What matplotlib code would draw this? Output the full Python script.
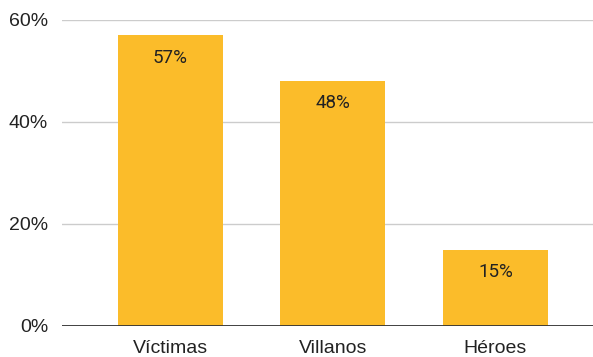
import matplotlib.pyplot as plt
from matplotlib.ticker import PercentFormatter

categories = ['Víctimas', 'Villanos', 'Héroes']
values = [0.57, 0.48, 0.15]
labels = ['57%', '48%', '15%']
yticks = [0, 0.2, 0.4, 0.6]

plt.rcParams['font.family'] = ['Liberation Sans', 'DejaVu Sans']

fig = plt.figure(figsize=(5.93, 3.57), dpi=100)
ax = fig.add_axes([62 / 593, 31 / 357, 531 / 593, 306 / 357])

x = range(len(categories))
bars = ax.bar(x, values, width=0.646, color='#fbbc2a', zorder=3)
for bar, lab in zip(bars, labels):
    ax.text(bar.get_x() + bar.get_width() / 2, bar.get_height() - 0.026, lab,
            ha='center', va='top', fontsize=13.5, color='#222222', zorder=4,
            family=['Roboto', 'DejaVu Sans'])

ax.set_xlim(-0.665, 2.6)
ax.set_ylim(0, 0.6)
ax.set_yticks(yticks)
ax.yaxis.set_major_formatter(PercentFormatter(1.0, decimals=0))
ax.set_xticks(list(x))
ax.set_xticklabels(categories)
ax.tick_params(axis='both', length=0, labelsize=14, colors='#222222')
ax.tick_params(axis='x', pad=10)
ax.tick_params(axis='y', pad=10)
ax.grid(axis='y', color='#cccccc', linewidth=1, zorder=0)
ax.axhline(0, color='#333333', linewidth=1.3, zorder=5)
for s in ax.spines.values():
    s.set_visible(False)

fig.savefig('out.png', dpi=100)
